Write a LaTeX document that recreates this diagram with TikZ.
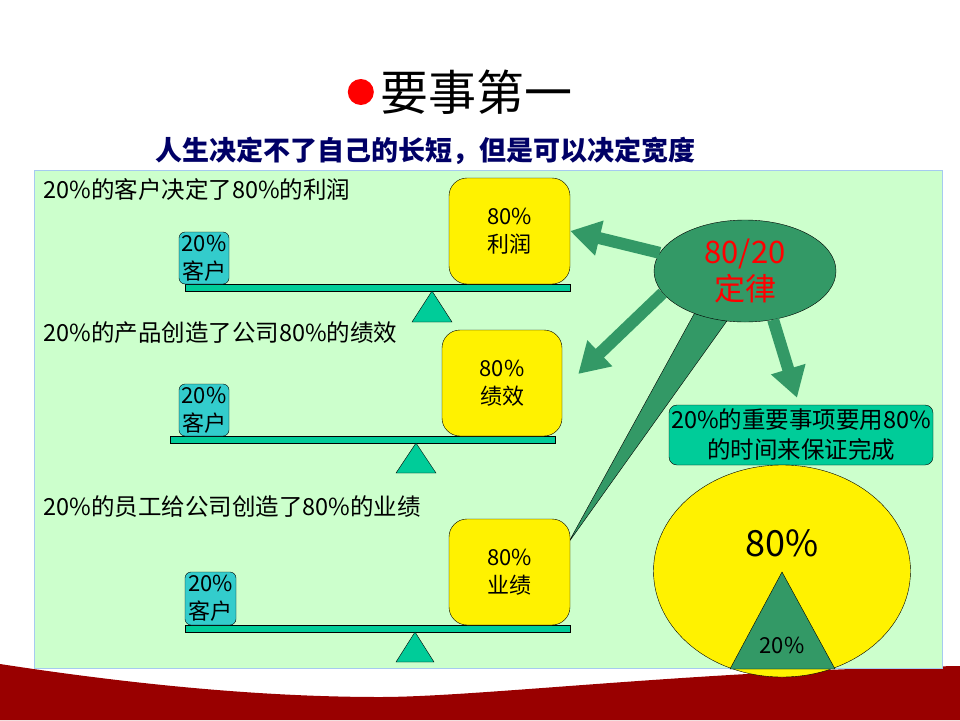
\documentclass[tikz,border=0pt]{standalone}
\usepackage{fontspec}
\setmainfont{Noto Sans CJK SC}
\usetikzlibrary{arrows.meta,positioning,shapes.geometric,calc}

\definecolor{pagegreen}{HTML}{CCFFCC}
\definecolor{frameblue}{HTML}{A6CAF0}
\definecolor{lawgreen}{HTML}{339966}
\definecolor{beamgreen}{HTML}{00CC99}
\definecolor{custcyan}{HTML}{33CCCC}
\definecolor{wavered}{HTML}{990000}
\definecolor{mottoblue}{HTML}{000066}

\pgfdeclarelayer{behind}
\pgfsetlayers{behind,main}

\begin{document}
\begin{tikzpicture}[
    x=1pt, y=-1pt,
    caption/.style={anchor=west, font=\fontsize{23.5}{26}\selectfont},
    cust/.style={draw, rounded corners=6pt, fill=custcyan, minimum width=50pt, minimum height=52pt, inner sep=0pt, align=center, font=\fontsize{22}{28}\selectfont},
    gain/.style={draw, rounded corners=18pt, fill=yellow, minimum width=121pt, minimum height=106pt, inner sep=0pt, align=center, font=\fontsize{22}{28}\selectfont},
    beam/.style={draw, fill=beamgreen, minimum width=385pt, minimum height=7pt, inner sep=0pt},
    pivot/.style={draw, fill=beamgreen},
    blockarr/.style={lawgreen, line width=12pt, -{Triangle[length=30pt, width=34pt]}},
  ]
  \useasboundingbox (0,0) rectangle (960,720);

  % page ground
  \begin{pgfonlayer}{behind}
    \fill[wavered] (0,664) .. controls (130,684) and (260,697) .. (380,697)
      .. controls (480,697) and (700,670) .. (960,666) -- (960,720) -- (0,720) -- cycle;
    \draw[frameblue, fill=pagegreen] (34,170) rectangle (942,668);
  \end{pgfonlayer}

  % title
  \node[anchor=west, font=\fontsize{48}{52}\selectfont, inner sep=0pt] (title) at (380,92) {要事第一};
  \node[circle, fill=red, minimum size=26pt, inner sep=0pt, left=6pt of title] (dot) {};
  \node[anchor=west, text=mottoblue, font=\bfseries\fontsize{27}{30}\selectfont] (motto) at (152,151) {人生决定不了自己的长短，但是可以决定宽度};

  % (1) customers
  \node[caption] (cap1) at (40,190) {20\%的客户决定了80\%的利润};
  \node[beam] (beam1) at (377.5,287.5) {};
  \node[cust] (cust1) at (204,258) {20\%\\客户};
  \node[gain] (res1) at (509.5,231) {80\%\\利润};
  \draw[pivot] (432,291) -- (452,322) -- (412,322) -- cycle;

  % (2) products
  \node[caption] (cap2) at (40,333) {20\%的产品创造了公司80\%的绩效};
  \node[beam] (beam2) at (362.5,439.5) {};
  \node[cust] (cust2) at (204,410) {20\%\\客户};
  \node[gain, minimum width=120pt] (res2) at (502,383) {80\%\\绩效};
  \draw[pivot] (416,443) -- (436,473) -- (396,473) -- cycle;

  % (3) staff
  \node[caption] (cap3) at (40,507) {20\%的员工给公司创造了80\%的业绩};
  \node[beam] (beam3) at (377.5,628.5) {};
  \node[cust, minimum width=51pt, minimum height=53pt] (cust3) at (210.5,598.5) {20\%\\客户};
  \node[gain] (res3) at (509.5,572) {80\%\\业绩};
  \draw[pivot] (415,632) -- (434,662) -- (396,662) -- cycle;

  % 80/20 law
  \node[ellipse, draw, fill=lawgreen, minimum width=182pt, minimum height=102pt, inner sep=0pt,
        align=center, text=red, font=\fontsize{31}{37}\selectfont] (law) at (745,271) {80/20\\定律};
  \begin{pgfonlayer}{behind}
    \draw[fill=lawgreen] (law.220) -- ($(res3.east)+(-2,-29)$) -- (law.250) -- cycle;
  \end{pgfonlayer}
  \node[draw, rounded corners=8pt, fill=beamgreen, minimum width=264pt, minimum height=60pt, inner sep=0pt,
        align=center, font=\fontsize{23.5}{30}\selectfont] (task) at (801,435) {20\%的重要事项要用80\%\\的时间来保证完成};
  \draw[blockarr] (law.168) -- (res1.east);
  \draw[blockarr] (law.195) -- ($(res2.east)+(16,-9)$);
  \draw[blockarr] (law.300) -- ($(task.north)+(-4,-7)$);

  % time share
  \node[ellipse, draw, fill=yellow, minimum width=257pt, minimum height=212pt] (share) at (782,571) {};
  \node[font=\fontsize{36}{40}\selectfont] (big) at (782,543) {80\%};
  \draw[fill=lawgreen] (782,572) -- (835,669) -- (730,669) -- cycle;
  \node[font=\fontsize{22}{26}\selectfont] (small) at (782,645) {20\%};
\end{tikzpicture}
\end{document}
